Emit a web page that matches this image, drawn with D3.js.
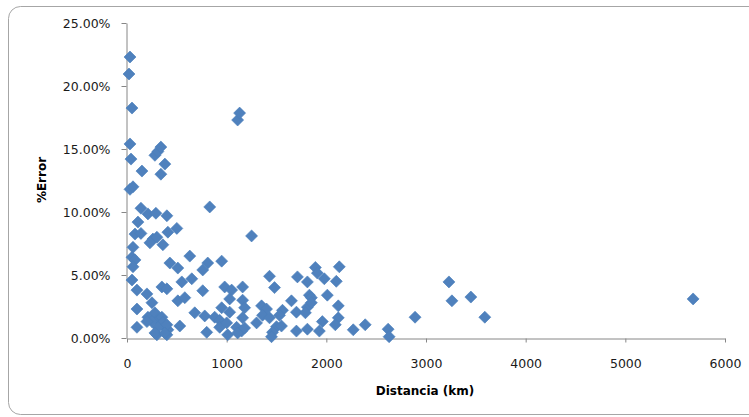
<!DOCTYPE html>
<html>
<head>
<meta charset="utf-8">
<script src="https://cdn.jsdelivr.net/npm/d3@7"></script>
<style>
  body { margin: 0; background: #fff; }
  svg { display: block; }
</style>
</head>
<body>
<div id="chart"></div>
<script>
// distance in km, error in %
const distancia = [
  30, 20, 50, 30, 40, 150, 280, 310, 340, 380, 340, 1110, 1130, 30, 60, 140, 210, 290, 400, 110,
  830, 80, 140, 260, 300, 230, 360, 410, 500, 60, 50, 80, 60, 630, 430, 510, 810, 760, 950, 50,
  550, 650, 100, 200, 350, 400, 760, 980, 1050, 1160, 510, 580, 1030, 100, 250, 680, 780, 210, 280, 310,
  250, 350, 950, 1030, 880, 930, 100, 530, 380, 410, 300, 400, 800, 1010, 1100, 1150, 1250, 1430, 1480, 1710,
  1810, 1890, 1910, 1980, 2130, 2100, 2010, 1160, 1650, 1830, 1850, 1350, 1400, 1360, 1430, 1560, 1530, 1700, 1810, 1790,
  2120, 2120, 2090, 1960, 1160, 1300, 1500, 1550, 1460, 1450, 1700, 1810, 1930, 2270, 2390, 2620, 2630, 2890, 3230, 3260,
  3450, 3590, 5680, 200, 360, 310, 400, 280, 380, 930, 1000, 1110, 1180, 1850, 1180
];
const errorPct = [
  22.3, 20.95, 18.25, 15.4, 14.2, 13.25, 14.5, 14.8, 15.15, 13.8, 13.0, 17.3, 17.85, 11.8, 12.0, 10.3, 9.85, 9.9, 9.7, 9.2,
  10.4, 8.25, 8.3, 7.85, 8.0, 7.55, 7.4, 8.4, 8.7, 7.2, 6.4, 6.2, 5.65, 6.5, 5.95, 5.55, 5.95, 5.4, 6.1, 4.6,
  4.45, 4.7, 3.8, 3.5, 4.05, 3.9, 3.75, 4.05, 3.8, 4.05, 2.95, 3.2, 3.1, 2.3, 2.8, 2.0, 1.75, 1.65, 2.0, 1.45,
  1.3, 1.65, 2.4, 2.05, 1.65, 1.4, 0.85, 0.95, 0.85, 0.65, 0.25, 0.25, 0.45, 0.25, 0.85, 0.55, 8.1, 4.9, 4.0, 4.85,
  4.45, 5.6, 5.15, 4.7, 5.65, 4.5, 3.4, 3.0, 2.95, 3.4, 3.2, 2.55, 2.3, 1.8, 1.6, 2.2, 1.8, 2.05, 2.45, 2.0,
  2.55, 1.6, 1.05, 1.3, 1.6, 1.2, 0.9, 0.95, 0.45, 0.1, 0.55, 0.7, 0.55, 0.65, 1.05, 0.7, 0.1, 1.65, 4.45, 2.95,
  3.25, 1.65, 3.1, 1.3, 1.25, 0.85, 1.05, 0.4, 0.4, 0.85, 1.2, 0.4, 0.8, 2.8, 2.4
];
const xTicks = [0, 1000, 2000, 3000, 4000, 5000, 6000];
const yTicks = [0, 5, 10, 15, 20, 25];

const W = 749, H = 417;
const margin = {top: 23, right: 24, bottom: 79, left: 127};

const svg = d3.select("#chart").append("svg")
  .attr("width", W).attr("height", H);

// chart area frame
svg.append("rect")
  .attr("x", 8.5).attr("y", 6.5)
  .attr("width", 780).attr("height", 408)
  .attr("rx", 12).attr("ry", 12)
  .attr("fill", "#fff")
  .attr("stroke", "#a6a6a6");

const x = d3.scaleLinear().domain([0, 6000]).range([margin.left, W - margin.right]);
const y = d3.scaleLinear().domain([0, 25]).range([H - margin.bottom, margin.top]);

const axisColor = "#868686";
const fontTick = "'DejaVu Sans', Verdana, sans-serif";

// x axis
const gx = svg.append("g")
  .attr("transform", `translate(0,${y(0) + 0.5})`)
  .call(d3.axisBottom(x).tickValues(xTicks).tickSize(4).tickPadding(17).tickSizeOuter(0).tickFormat(d3.format("d")));

// y axis
const gy = svg.append("g")
  .attr("transform", `translate(${x(0) - 0.5},0)`)
  .call(d3.axisLeft(y).tickValues(yTicks).tickSize(5).tickPadding(11).tickSizeOuter(0).tickFormat(d => d.toFixed(2) + "%"));

[gx, gy].forEach(g => {
  g.select(".domain").attr("stroke", axisColor);
  g.selectAll(".tick line").attr("stroke", axisColor);
  g.selectAll(".tick text")
    .attr("fill", "#1a1a1a")
    .style("font-family", fontTick)
    .style("font-size", "12.5px");
});

// points
const pts = distancia.map((d, i) => ({km: d, err: errorPct[i]}));
svg.append("g")
  .selectAll("path")
  .data(pts)
  .join("path")
  .attr("d", d3.symbol(d3.symbolSquare, 72))
  .attr("transform", d => `translate(${x(d.km)},${y(d.err)}) rotate(45)`)
  .attr("fill", "#4f81bd")
  .attr("stroke", "#4a7ebb")
  .attr("stroke-width", 0.6);

// axis titles
svg.append("text")
  .attr("x", 425).attr("y", 395)
  .attr("text-anchor", "middle")
  .style("font-family", fontTick)
  .style("font-size", "12px")
  .style("font-weight", "bold")
  .text("Distancia (km)");

svg.append("text")
  .attr("transform", "translate(46,180) rotate(-90)")
  .attr("text-anchor", "middle")
  .style("font-family", fontTick)
  .style("font-size", "12px")
  .style("font-weight", "bold")
  .text("%Error");
</script>
</body>
</html>
